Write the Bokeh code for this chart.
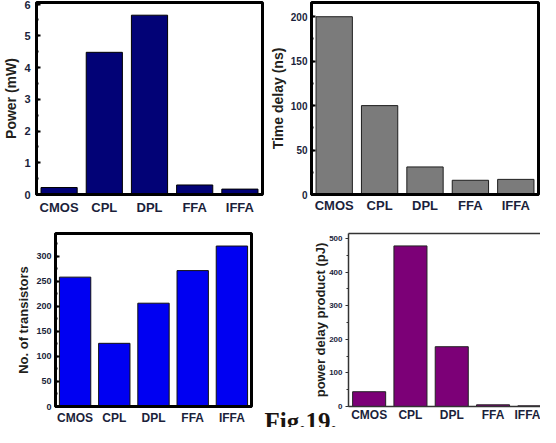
from bokeh.plotting import figure
from bokeh.models import LinearAxis, FixedTicker, Range1d, SingleIntervalTicker, Title
from bokeh.layouts import column, row
from bokeh.embed import file_html
from bokeh.resources import INLINE

# ---- data ----
categories = ["CMOS", "CPL", "DPL", "FFA", "IFFA"]
power_mw = [0.22, 4.48, 5.65, 0.30, 0.17]
delay_ns = [200, 100, 31, 16, 17]
transistors = [258, 126, 206, 271, 320]
pdp_pj = [44, 478, 178, 5, 2]

SANS = "Liberation Sans"
SERIF = "Liberation Serif"
TICK_COLOR = "#1b1f3b"
TITLE_COLOR = "#231f1c"


def make_fig(width, height, x_range, y_range, borders):
    left, right, top, bottom = borders
    p = figure(width=width, height=height, x_range=x_range, y_range=y_range,
               output_backend="svg", toolbar_location=None,
               min_border_left=left, min_border_right=right,
               min_border_top=top, min_border_bottom=bottom)
    p.xgrid.visible = False
    p.ygrid.visible = False
    p.background_fill_color = "white"
    p.border_fill_color = "white"
    return p


def style_axes(p, line_w, line_color, ytick_font, xtick_font, ystand, xstand,
               interval, title, title_size, title_standoff, tick_in=True):
    for ax in (p.xaxis[0], p.yaxis[0]):
        ax.axis_line_width = line_w
        ax.axis_line_color = line_color
        ax.major_label_text_font = SANS
        ax.major_label_text_font_style = "bold"
        ax.major_label_text_color = TICK_COLOR
    xa = p.xaxis[0]
    xa.major_tick_in = 0
    xa.major_tick_out = 0
    xa.minor_tick_in = 0
    xa.minor_tick_out = 0
    xa.major_label_text_font_size = xtick_font
    xa.major_label_standoff = xstand
    ya = p.yaxis[0]
    ya.ticker = SingleIntervalTicker(interval=interval, num_minor_ticks=2)
    ya.major_label_text_font_size = ytick_font
    ya.major_label_standoff = ystand
    ya.major_tick_line_color = line_color
    ya.minor_tick_line_color = line_color
    ya.axis_label = title
    ya.axis_label_text_font = SANS
    ya.axis_label_text_font_style = "bold"
    ya.axis_label_text_font_size = title_size
    ya.axis_label_text_color = TITLE_COLOR
    ya.axis_label_standoff = title_standoff
    if tick_in:
        ya.major_tick_in = 4
        ya.major_tick_out = 0
        ya.minor_tick_in = 2
        ya.minor_tick_out = 0
        ya.major_tick_line_width = 2
        ya.minor_tick_line_width = 2
    else:
        ya.major_tick_in = 0
        ya.major_tick_out = 3
        ya.minor_tick_in = 0
        ya.minor_tick_out = 2
        ya.major_tick_line_width = 1
        ya.minor_tick_line_width = 1


# ---- panel 1: power ----
p1 = make_fig(266, 225, categories, (0, 6.05), (30, 4, 2, 25))
p1.vbar(x=categories, top=power_mw, width=0.8, bottom=0,
        fill_color="#020276", line_color="#000000", line_width=1)
p1.outline_line_color = "black"
p1.outline_line_width = 3
style_axes(p1, 3, "black", "11px", "13px", 6, 5, 1, "Power (mW)", "14px", 2)

# ---- panel 2: time delay ----
p2 = make_fig(274, 225, categories, (0, 216), (42, 2, 2, 31))
p2.vbar(x=categories, top=delay_ns, width=0.8, bottom=0,
        fill_color="#7b7b7b", line_color="#1e1e1e", line_width=1)
p2.outline_line_color = "black"
p2.outline_line_width = 3
style_axes(p2, 3, "black", "10px", "13px", 4, 3, 50, "Time delay (ns)", "14px", 2)

# ---- panel 3: transistor count ----
p3 = make_fig(254, 202, categories, (0, 345), (55, 3, 8, 18))
p3.vbar(x=categories, top=transistors, width=0.8, bottom=0,
        fill_color="#0000f2", line_color="#111111", line_width=1)
p3.outline_line_color = "black"
p3.outline_line_width = 3
style_axes(p3, 3, "black", "9px", "12px", 4, 4, 50, "No. of transistors", "13px", 2)

# ---- panel 4: power delay product ----
xpos = [i + 1 for i in range(len(categories))]
p4 = make_fig(286, 202, Range1d(0.5, 0.5 + 192 / 41.3), (0, 515), (94, 0, 8, 17))
p4.vbar(x=xpos, top=pdp_pj, width=0.8, bottom=0,
        fill_color="#7c0077", line_color="#222222", line_width=1)
p4.outline_line_color = None
style_axes(p4, 1.5, "#333333", "8px", "12px", 3, 1, 100,
           "power delay product (pJ)", "13px", -2, tick_in=False)
p4.xaxis[0].ticker = FixedTicker(ticks=xpos)
p4.xaxis[0].major_label_overrides = {x: c for x, c in zip(xpos, categories)}
top_axis = LinearAxis(ticker=FixedTicker(ticks=[]), axis_line_color="#333333",
                      axis_line_width=1.5, major_tick_in=0, major_tick_out=0,
                      minor_tick_in=0, minor_tick_out=0, major_label_standoff=0)
p4.add_layout(top_axis, "above")
fig_caption = Title(text="Fig.19.", align="left", offset=-84, standoff=-33,
                    vertical_align="top", text_font=SERIF,
                    text_font_style="bold", text_font_size="25px",
                    text_color="#1a1410")
p4.add_layout(fig_caption, "below")

layout = column(row(p1, p2), row(p3, p4))
open("out.html", "w").write(file_html(layout, INLINE))
